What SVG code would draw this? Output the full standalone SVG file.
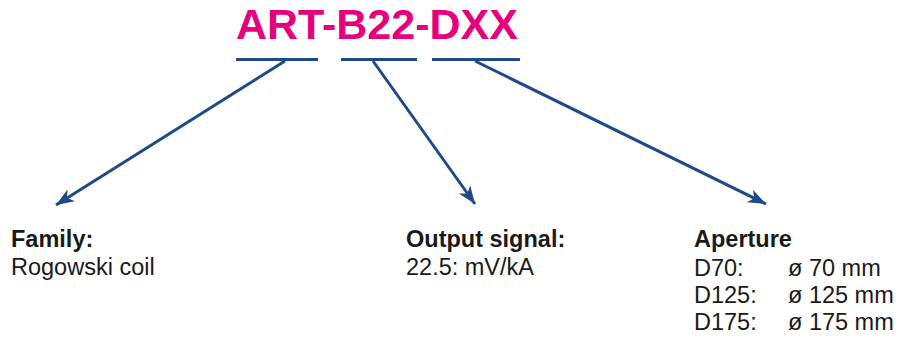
<svg xmlns="http://www.w3.org/2000/svg" width="899" height="337" viewBox="0 0 899 337">
<style>
.title{font-family:"Liberation Sans",Arial,sans-serif;font-weight:bold;font-size:43px;fill:#E6007E}
.lbl{font-family:"Liberation Sans",Arial,sans-serif;font-size:23.5px;fill:#1a1a1a}
.b{font-weight:bold}
.ul{stroke:#1F4A8A;stroke-width:3;fill:none}
.con{stroke:#1F4A8A;stroke-width:3;fill:none;marker-end:url(#ah)}
</style>
<defs>
<marker id="ah" markerUnits="userSpaceOnUse" markerWidth="20" markerHeight="16" refX="18" refY="7" orient="auto">
<path d="M0,0 L18,7 L0,14 L5,7 Z" fill="#1F4A8A"/>
</marker>
</defs>
<rect width="899" height="337" fill="#ffffff"/>
<g id="code">
<text class="title" x="236" y="38.5">ART-B22-DXX</text>
<line class="ul" x1="236" y1="59.5" x2="318" y2="59.5"/>
<line class="ul" x1="341" y1="59.5" x2="417" y2="59.5"/>
<line class="ul" x1="432" y1="59.5" x2="520" y2="59.5"/>
</g>
<g id="connectors">
<line class="con" x1="285" y1="61" x2="56" y2="205"/>
<line class="con" x1="373" y1="61" x2="475" y2="204"/>
<line class="con" x1="475" y1="61" x2="766" y2="204"/>
</g>
<g id="family">
<text class="lbl b" x="11" y="246.5">Family:</text>
<text class="lbl" x="11" y="274.5">Rogowski coil</text>
</g>
<g id="output">
<text class="lbl b" x="406" y="246.5">Output signal:</text>
<text class="lbl" x="406" y="274.5">22.5: mV/kA</text>
</g>
<g id="aperture">
<text class="lbl b" x="694" y="247">Aperture</text>
<text class="lbl" x="694" y="275.5">D70:</text>
<text class="lbl" x="788" y="275.5">ø 70 mm</text>
<text class="lbl" x="694" y="303">D125:</text>
<text class="lbl" x="788" y="303">ø 125 mm</text>
<text class="lbl" x="694" y="330">D175:</text>
<text class="lbl" x="788" y="330">ø 175 mm</text>
</g>
</svg>
